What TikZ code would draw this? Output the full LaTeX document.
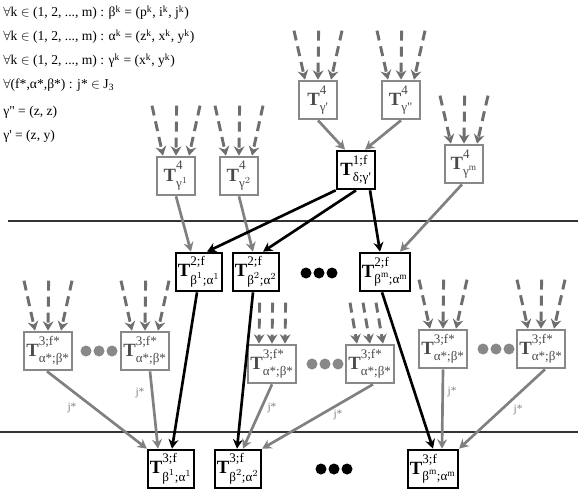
\documentclass[tikz,border=0pt]{standalone}
\usepackage{amsmath}
\usepackage{fontspec}
\setmainfont{Liberation Serif}[Ligatures=TeXOff]
\usetikzlibrary{arrows.meta,calc}
\definecolor{gbox}{HTML}{888888}
\definecolor{garr}{HTML}{808080}
\definecolor{gdash}{HTML}{6E6E6E}
\definecolor{gtext}{HTML}{4A4A4A}
\newcommand{\Tn}[2]{$\text{\bfseries T}^{\raisebox{3pt}{$\scriptstyle #1$}}_{\raisebox{-1pt}{$\scriptstyle #2$}}$}
\tikzset{
  tbox/.style={draw, line width=1.5pt, minimum width=29pt, minimum height=29pt,
    inner sep=1.5pt, font=\fontsize{14}{16}\selectfont},
  blackbox/.style={tbox, draw=black, text=black},
  graybox/.style={tbox, draw=gbox, text=gtext},
  tip/.style={-{Stealth[length=7pt,width=7.5pt]}},
  garrow/.style={draw=garr, line width=2pt, tip},
  barrow/.style={draw=black, line width=2pt, tip},
  dashin/.style={draw=gdash, line width=2.2pt, dash pattern=on 7.5pt off 4.5pt,
    -{Stealth[length=7pt,width=8pt]}},
  lefttext/.style={anchor=base west, inner sep=0pt, font=\fontsize{10.2}{12}\selectfont},
  jlab/.style={text=garr, inner sep=0pt, font=\fontsize{8.5}{10}\selectfont},
  sepline/.style={draw=black!80, line width=0.8pt},
}
\begin{document}
\begin{tikzpicture}[x=0.75pt,y=-0.75pt]
\useasboundingbox (0,0) rectangle (581,495);

% left text
\node[lefttext] (l1) at (3,17) {$\forall$k $\in$ (1, 2, ..., m) : β\textsuperscript{k} = (p\textsuperscript{k}, i\textsuperscript{k}, j\textsuperscript{k})};
\node[lefttext] (l2) at (3,41) {$\forall$k $\in$ (1, 2, ..., m) : α\textsuperscript{k} = (z\textsuperscript{k}, x\textsuperscript{k}, y\textsuperscript{k})};
\node[lefttext] (l3) at (3,65) {$\forall$k $\in$ (1, 2, ..., m) : γ\textsuperscript{k} = (x\textsuperscript{k}, y\textsuperscript{k})};
\node[lefttext] (l4) at (3,89) {$\forall$(f*,α*,β*) : j* $\in$ J\textsubscript{3}};
\node[lefttext] (l5) at (3,116) {γ" = (z, z)};
\node[lefttext] (l6) at (3,140) {γ' = (z, y)};

% separator lines
\coordinate (h1a) at (8,221); \coordinate (h1b) at (578,221);
\coordinate (h2a) at (0,432); \coordinate (h2b) at (578,432);
\draw[sepline] (h1a) -- (h1b);
\draw[sepline] (h2a) -- (h2b);

% level 4 and level 1
\node[graybox] (g1) at (318,100) {\Tn{\text{4}}{\text{γ'}}};
\node[graybox] (g2) at (401,100) {\Tn{\text{4}}{\text{γ"}}};
\node[blackbox] (t1) at (356,170) {\Tn{\text{1;f}}{\text{δ;γ'}}};
\node[graybox] (gm) at (464,164) {\Tn{\text{4}}{\text{γ}^{\text{m}}}};
\node[graybox] (ga) at (176,176) {\Tn{\text{4}}{\text{γ}^{1}}};
\node[graybox] (gb) at (239,176) {\Tn{\text{4}}{\text{γ}^{2}}};

% level 2
\node[blackbox] (a1) at (199,272) {\Tn{\text{2;f}}{\text{β}^{1}\text{;α}^{1}}};
\node[blackbox] (a2) at (256,272) {\Tn{\text{2;f}}{\text{β}^{2}\text{;α}^{2}}};
\node[blackbox] (am) at (385,272) {\Tn{\text{2;f}}{\text{β}^{\text{m}}\text{;α}^{\text{m}}}};

% level 3 inputs
\node[graybox] (s1) at (48,351) {\Tn{\text{3;f*}}{\text{α*;β*}}};
\node[graybox] (s2) at (145,351) {\Tn{\text{3;f*}}{\text{α*;β*}}};
\node[graybox] (s3) at (272,364) {\Tn{\text{3;f*}}{\text{α*;β*}}};
\node[graybox] (s4) at (370,364) {\Tn{\text{3;f*}}{\text{α*;β*}}};
\node[graybox] (s5) at (443,349) {\Tn{\text{3;f*}}{\text{α*;β*}}};
\node[graybox] (s6) at (541,349) {\Tn{\text{3;f*}}{\text{α*;β*}}};

% level 3 outputs
\node[blackbox] (b1) at (171,469) {\Tn{\text{3;f}}{\text{β}^{1}\text{;α}^{1}}};
\node[blackbox] (b2) at (238,469) {\Tn{\text{3;f}}{\text{β}^{2}\text{;α}^{2}}};
\node[blackbox] (bm) at (433,469) {\Tn{\text{3;f}}{\text{β}^{\text{m}}\text{;α}^{\text{m}}}};

% dots
\foreach \x in {306,319,332} \fill[black] (\x,273) circle (5.5);
\foreach \x in {321,334,347} \fill[black] (\x,469) circle (5.5);
\foreach \x in {86,99,112} \fill[gbox] (\x,351) circle (5.5);
\foreach \x in {312,325,338} \fill[gbox] (\x,364) circle (5.5);
\foreach \x in {483,496,509} \fill[gbox] (\x,349) circle (5.5);

% dashed inputs
\foreach \n/\len in {g1/49,g2/49,gm/48,ga/50,gb/50,s1/50,s2/50,s5/49,s6/49} {
  \foreach \s/\d/\e in {-24/-13/a,0.6/0/b,24/13/c} {
    \coordinate (\n-in\e) at ($(\n.north)+(\s,-\len)$);
    \coordinate (\n-at\e) at ($(\n.north)+(\d,0)$);
    \draw[dashin] (\n-in\e) -- (\n-at\e);
  }
}
\foreach \s/\d/\e in {-12.4/-13/a,0.6/0/b,13.6/13/c} {
  \coordinate (s3-in\e) at ($(s3.north)+(\s,-41)$);
  \coordinate (s3-at\e) at ($(s3.north)+(\d,0)$);
  \draw[dashin] (s3-in\e) -- (s3-at\e);
}
\foreach \d/\s/\e in {-1/-20/a,0/-7/b,1/6/c} {
  \coordinate (s4-in\e) at ($(s4.north)+(\s,-41)$);
  \coordinate (s4-at\e) at ($(s4.north)+(\d*13,0)$);
  \draw[dashin] (s4-in\e) -- (s4-at\e);
}

% gray connectors top
\draw[garrow] (g1.south) -- ($(t1.north)+(-11,0)$);
\draw[garrow] (g2.south) -- ($(t1.north)+(9,0)$);
\draw[garrow] (ga.south) -- ($(a1.north)+(-8,0)$);
\draw[garrow] (gb.south) -- ($(a2.north)+(-3,0)$);
\draw[garrow] ($(gm.south)+(-2,0)$) -- ($(am.north)+(15,0)$);

% black connectors
\draw[barrow] (t1.south west) -- ($(a1.north)+(8,0)$);
\draw[barrow] (t1.south) -- ($(a2.north)+(7,0)$);
\draw[barrow] ($(t1.south)+(14,0)$) -- ($(am.north)+(-5,0)$);
\draw[barrow] ($(a1.south)+(-2,0)$) -- ($(b1.north)+(1,0)$);
\draw[barrow] ($(a2.south)+(-3,0)$) -- ($(b2.north)+(-1,0)$);
\draw[barrow] ($(am.south)+(-3,0)$) -- (bm.north);

% gray j* connectors
\draw[garrow] ($(s1.south)+(-1,0)$) -- (b1.north west);
\draw[garrow] ($(s2.south)+(5,0)$) -- ($(b1.north)+(-13,0)$);
\draw[garrow] (s3.south) -- ($(b2.north)+(5,0)$);
\draw[garrow] ($(s4.south)+(3,0)$) -- (b2.north east);
\draw[garrow] (s5.south) -- ($(bm.north)+(9,0)$);
\draw[garrow] ($(s6.south)+(4,0)$) -- (bm.north east);

% j* labels
\node[jlab] (j1) at (72,408) {j*};
\node[jlab] (j2) at (140,393) {j*};
\node[jlab] (j3) at (272,408) {j*};
\node[jlab] (j4) at (338,415) {j*};
\node[jlab] (j5) at (452,392) {j*};
\node[jlab] (j6) at (518,410) {j*};
\end{tikzpicture}
\end{document}
